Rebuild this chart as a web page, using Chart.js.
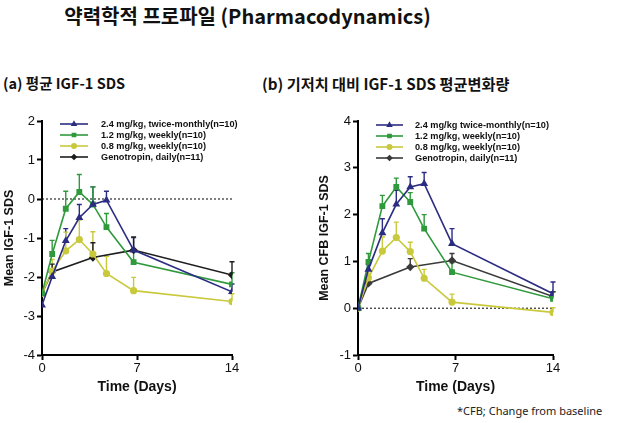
<!DOCTYPE html>
<html><head><meta charset="utf-8">
<script src="https://cdn.jsdelivr.net/npm/chart.js@4"></script>
<style>
html,body{margin:0;padding:0;background:#fff;width:630px;height:423px;overflow:hidden;position:relative;}
.t{position:absolute;white-space:nowrap;color:#111;}
#title{left:0;width:495px;text-align:center;top:1px;font:bold 20px "Noto Sans CJK KR";line-height:30px;}
#sa{left:3px;top:70px;font:bold 14.5px "Noto Sans CJK KR";line-height:26px;}
#sb{left:262px;top:70px;font:bold 15.2px "Noto Sans CJK KR";line-height:26px;}
#foot{left:457px;top:403px;font:11px "Noto Sans";line-height:16px;color:#222;}
.w{position:absolute;top:100px;width:315px;height:300px;}
</style></head><body>
<div class="t" id="title">약력학적 프로파일 (Pharmacodynamics)</div>
<div class="t" id="sa">(a) 평균 IGF-1 SDS</div>
<div class="t" id="sb">(b) 기저치 대비 IGF-1 SDS 평균변화량</div>
<div class="w" style="left:0"><canvas id="c1" width="315" height="300"></canvas></div>
<div class="w" style="left:315px"><canvas id="c2" width="315" height="300"></canvas></div>
<div class="t" id="foot">*CFB; Change from baseline</div>
<script>
const days = [0, 0.75, 1.75, 2.75, 3.75, 4.75, 6.75, 14];
const xTicks = [0, 7, 14];
const labelsA = ["2.4 mg/kg, twice-monthly(n=10)", "1.2 mg/kg, weekly(n=10)", "0.8 mg/kg, weekly(n=10)", "Genotropin, daily(n=11)"];
const labelsB = ["2.4 mg/kg twice-monthly(n=10)", "1.2 mg/kg, weekly(n=10)", "0.8 mg/kg, weekly(n=10)", "Genotropin, daily(n=11)"];

const blueA   = [-2.72, -1.99, -1.07, -0.48, -0.14, -0.03, -1.31, -2.38];
const blueAErr= [0, 0, 0.31, 0.34, 0.45, 0.23, 0.32, 0.2];
const greenA  = [-2.42, -1.41, -0.25, 0.18, -0.14, -0.72, -1.62, -2.19];
const greenAErr=[0, 0.35, 0.45, 0.45, 0.45, 0.35, 0.3, 0.3];
const yellowA = [-2.42, -1.85, -1.33, -1.04, -1.41, -1.91, -2.35, -2.63];
const yellowAErr=[0, 0.3, 0.48, 0.5, 0.57, 0.44, 0.34, 0.2];
const blackA  = [-2.42, -1.87, null, null, -1.5, null, -1.31, -1.95];
const blackAErr=[0, 0.2, null, null, 0.38, null, 0.34, 0.34];

const blueB   = [0, 0.83, 1.61, 2.22, 2.59, 2.66, 1.38, 0.31];
const blueBErr= [0, 0.1, 0.3, 0.3, 0.22, 0.24, 0.32, 0.25];
const greenB  = [0, 0.99, 2.18, 2.59, 2.27, 1.70, 0.77, 0.20];
const greenBErr=[0, 0.18, 0.23, 0.19, 0.2, 0.3, 0.2, 0.15];
const yellowB = [0, 0.65, 1.22, 1.51, 1.21, 0.64, 0.13, -0.09];
const yellowBErr=[0, 0.1, 0.3, 0.33, 0.2, 0.19, 0.17, 0.1];
const blackB  = [0, 0.53, null, null, 0.88, null, 1.02, 0.25];
const blackBErr=[0, 0.05, null, null, 0.18, null, 0.15, 0.1];

const COLORS = ['#2b2d82', '#2f9a3c', '#c9c93d', '#1e1e1e'];
const STYLES = ['triangle', 'rect', 'circle', 'rectRot'];

function pts(vals){ return days.map((d,i)=>({x:d, y:vals[i]})); }

function mkDatasets(series, errs, labels, blackColor){
  return series.map((s,i)=>({
    label: labels[i],
    data: pts(s),
    errs: errs[i],
    borderColor: i===3 ? blackColor : COLORS[i],
    backgroundColor: i===3 ? blackColor : COLORS[i],
    pointStyle: STYLES[i],
    pointRadius: i===2 ? 2.8 : 3,
    borderWidth: 1.6,
    spanGaps: true,
    tension: 0
  }));
}

const errPlugin = {
  id:'errbars',
  beforeDatasetsDraw(chart){
    const ctx = chart.ctx, xs = chart.scales.x, ys = chart.scales.y;
    const ca = chart.chartArea;
    ctx.save();
    ctx.setLineDash([2,2]);
    ctx.strokeStyle = '#000'; ctx.lineWidth = 1;
    const y0 = ys.getPixelForValue(0);
    ctx.beginPath(); ctx.moveTo(ca.left, y0); ctx.lineTo(ca.right, y0); ctx.stroke();
    ctx.setLineDash([]);
    chart.data.datasets.forEach(ds=>{
      ctx.strokeStyle = ds.borderColor; ctx.lineWidth = 1.4;
      ds.data.forEach((p,i)=>{
        const e = ds.errs[i];
        if (p.y === null || !e) return;
        const px = xs.getPixelForValue(p.x);
        const py = ys.getPixelForValue(p.y);
        const pt = ys.getPixelForValue(p.y + e);
        ctx.beginPath();
        ctx.moveTo(px, py); ctx.lineTo(px, pt);
        ctx.moveTo(px-2.5, pt); ctx.lineTo(px+2.5, pt);
        ctx.stroke();
      });
    });
    ctx.restore();
  }
};

const legendPlugin = {
  id:'legendbox',
  afterDraw(chart, args, opts){
    const ctx = chart.ctx;
    ctx.save();
    ctx.font = 'bold 9.2px "Liberation Sans"';
    ctx.textBaseline = 'middle';
    chart.data.datasets.forEach((ds,i)=>{
      const y = opts.y0 + i*opts.dy;
      ctx.strokeStyle = ds.borderColor; ctx.lineWidth = 1.6;
      ctx.beginPath(); ctx.moveTo(opts.x0, y); ctx.lineTo(opts.x1, y); ctx.stroke();
      ctx.fillStyle = ds.borderColor;
      Chart.helpers.drawPoint(ctx, {pointStyle: ds.pointStyle, radius: 2.2, rotation:0, borderWidth:1}, (opts.x0+opts.x1)/2, y);
      ctx.fillStyle = '#111';
      ctx.fillText(ds.label, opts.tx, y);
    });
    ctx.restore();
  }
};

function mkChart(id, datasets, ymin, ymax, ytitle, yw, padR, leg){
  return new Chart(document.getElementById(id), {
    type:'line',
    data:{datasets},
    plugins:[errPlugin, legendPlugin],
    options:{
      responsive:false, animation:false,
      layout:{padding:{left:0, top:21, right:padR, bottom:0}},
      plugins:{legend:{display:false}, tooltip:{enabled:false}, legendbox:leg},
      scales:{
        x:{type:'linear', min:0, max:14,
          afterBuildTicks(s){ s.ticks = xTicks.map(v=>({value:v})); },
          afterFit(s){ s.height = 45; },
          grid:{drawOnChartArea:false, drawTicks:true, tickLength:5, color:'#000', tickWidth:2},
          border:{display:true, color:'#000', width:2},
          ticks:{color:'#111', font:{family:'Liberation Sans', size:13}, padding:1, maxRotation:0},
          title:{display:true, text:'Time (Days)', color:'#111', font:{family:'Liberation Sans', size:14, weight:'bold'}, padding:{top:0,bottom:4}}
        },
        y:{min:ymin, max:ymax,
          ticks:{stepSize:1, color:'#111', font:{family:'Liberation Sans', size:13}, padding:2},
          afterFit(s){ s.width = yw; },
          grid:{drawOnChartArea:false, drawTicks:true, tickLength:5, color:'#000', tickWidth:2},
          border:{display:true, color:'#000', width:2},
          title:{display:true, text:ytitle, color:'#111', font:{family:'Liberation Sans', size:12.5, weight:'bold'}, padding:{top:2,bottom:0}}
        }
      }
    }
  });
}

mkChart('c1', mkDatasets([blueA, greenA, yellowA, blackA], [blueAErr, greenAErr, yellowAErr, blackAErr], labelsA, '#1e1e1e'),
  -4, 2, 'Mean IGF-1 SDS', 42, 83, {x0:60, x1:88, tx:101, y0:24, dy:11});
mkChart('c2', mkDatasets([blueB, greenB, yellowB, blackB], [blueBErr, greenBErr, yellowBErr, blackBErr], labelsB, '#3a3a3a'),
  -1, 4, 'Mean CFB IGF-1 SDS', 43, 77, {x0:61, x1:88, tx:100, y0:25, dy:11});
</script>
</body></html>
